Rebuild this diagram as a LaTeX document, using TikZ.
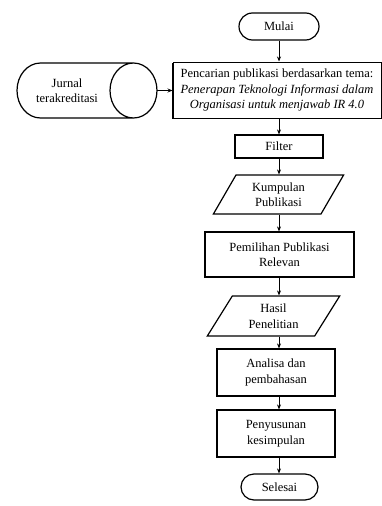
\documentclass[tikz,border=0pt]{standalone}
\usepackage{fontspec}
\setmainfont{Liberation Serif}
\newfontfamily\tnr{Liberation Serif}
\usetikzlibrary{shapes.geometric,shapes.misc,arrows.meta,shadows}
\begin{document}
\begin{tikzpicture}[x=1pt,y=-1pt,
  every node/.style={font=\tnr\fontsize{12.5}{15.5}\selectfont, align=center, inner sep=0pt},
  box/.style={draw, line width=1.2pt, rectangle},
  term/.style={draw, line width=1.2pt, rounded rectangle},
  para/.style={draw, line width=1.2pt, trapezium, trapezium stretches=true},
  arr/.style={line width=0.8pt, -{Stealth[length=5pt,width=4pt]}}
]
\useasboundingbox (0,0) rectangle (382,506);
\node[term, minimum width=80pt, minimum height=27pt] (mulai) at (279,26.5) {Mulai};
\node[box, minimum width=208pt, minimum height=56pt, line width=1pt,
  general shadow={shadow xshift=-1.3pt, shadow yshift=-1.3pt, fill=black}, fill=white] (cari) at (277,90)
  {Pencarian publikasi berdasarkan tema:\\ \textit{Penerapan Teknologi Informasi dalam}\\ \textit{Organisasi untuk menjawab IR 4.0}};
% cylinder drawn directly
\draw[line width=1.2pt] (40.5,63) -- (133.5,63)
  (40.5,118) -- (133.5,118)
  (40.5,63) arc[start angle=90, end angle=270, x radius=23.5pt, y radius=27.5pt]
  (133.5,90.5) ellipse[x radius=23.5pt, y radius=27.5pt];
\node[minimum width=140pt, minimum height=55pt] (jurnal) at (87,90.5) {};
\node (jtext) at (67,90.5) {Jurnal\\terakreditasi};
\node[box, minimum width=88pt, minimum height=23pt] (filter) at (279,146.5) {Filter};
\node[para, trapezium left angle=60, trapezium right angle=120, minimum width=131pt, minimum height=39pt] (kumpul) at (278.5,194.5) {Kumpulan\\Publikasi};
\node[box, minimum width=149pt, minimum height=45pt] (pilih) at (279.5,254.5) {Pemilihan Publikasi\\Relevan};
\node[para, trapezium left angle=58, trapezium right angle=122, minimum width=133pt, minimum height=40pt] (hasil) at (273.5,316) {Hasil\\Penelitian};
\node[box, minimum width=118pt, minimum height=47pt] (analisa) at (276,372.5) {Analisa dan\\pembahasan};
\node[box, minimum width=118pt, minimum height=47pt] (susun) at (276,433.5) {Penyusunan\\kesimpulan};
\node[term, minimum width=77pt, minimum height=26pt] (selesai) at (279.5,487) {Selesai};
\coordinate (ax) at (279,0);
\draw[arr] (mulai.south) -- (mulai.south |- cari.north);
\draw[arr] (jurnal.east) -- (cari.west |- jurnal.east);
\draw[arr] (ax |- cari.south) -- (ax |- filter.north);
\draw[arr] (ax |- filter.south) -- (ax |- kumpul.north);
\draw[arr] (ax |- kumpul.south) -- (ax |- pilih.north);
\draw[arr] (ax |- pilih.south) -- (ax |- hasil.north);
\draw[arr] (ax |- hasil.south) -- (ax |- analisa.north);
\draw[arr] (ax |- analisa.south) -- (ax |- susun.north);
\draw[arr] (ax |- susun.south) -- (ax |- selesai.north);
\end{tikzpicture}
\end{document}
